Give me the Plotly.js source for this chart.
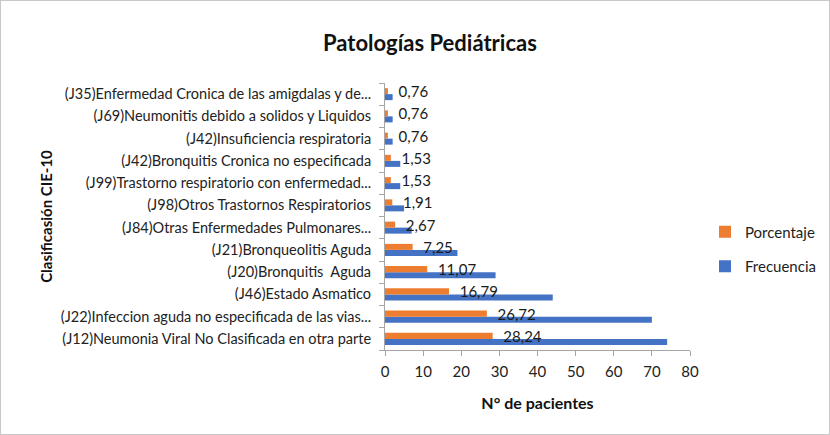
<!DOCTYPE html>
<html><head><meta charset="utf-8">
<script src="https://cdn.plot.ly/plotly-3.0.1.min.js"></script>
<style>html,body{margin:0;padding:0;background:#fff}#c{width:830px;height:435px;position:relative}#b{position:absolute;left:0;top:0;width:828px;height:433px;border:1px solid #c8c8c8;pointer-events:none}</style>
</head><body><div id="c"></div><div id="b"></div>
<script>
// bottom to top
const categories = [
  "(J12)Neumonia Viral No Clasificada en otra parte",
  "(J22)Infeccion aguda no especificada de las vias...",
  "(J46)Estado Asmatico",
  "(J20)Bronquitis  Aguda",
  "(J21)Bronqueolitis Aguda",
  "(J84)Otras Enfermedades Pulmonares...",
  "(J98)Otros Trastornos Respiratorios",
  "(J99)Trastorno respiratorio con enfermedad...",
  "(J42)Bronquitis Cronica no especificada",
  "(J42)Insuficiencia respiratoria",
  "(J69)Neumonitis debido a solidos y Liquidos",
  "(J35)Enfermedad Cronica de las amigdalas y de..."
];
const frecuencia = [74, 70, 44, 29, 19, 7, 5, 4, 4, 2, 2, 2];
const porcentaje = [28.24, 26.72, 16.79, 11.07, 7.25, 2.67, 1.91, 1.53, 1.53, 0.76, 0.76, 0.76];
const xTicks = [0, 10, 20, 30, 40, 50, 60, 70, 80];

const traces = [
  {type:'bar', orientation:'h', name:'Frecuencia', legendgroup:'f', legendrank:2, y:categories, x:frecuencia,
   marker:{color:'#4472C4'}, hoverinfo:'x'},
  {type:'bar', orientation:'h', name:'Porcentaje', legendgroup:'p', legendrank:1, y:categories, x:porcentaje,
   marker:{color:'#ED7D31'}, texttemplate:'\u00a0\u00a0%{x:.2f}', textposition:'outside',
   constraintext:'none', cliponaxis:false,
   textfont:{family:'Lato, sans-serif', size:15, color:'#1a1a1a'}}
];
const layout = {
  width:830, height:435,
  margin:{l:0, r:0, t:83, b:85},
  paper_bgcolor:'#fff', plot_bgcolor:'rgba(0,0,0,0)',
  separators:',.',
  barmode:'group', bargap:0.46, bargroupgap:0,
  font:{family:'Lato, sans-serif', color:'#222'},
  title:{text:'<b>Patologías Pediátricas</b>', x:0.518, xanchor:'center', y:0.9, yanchor:'middle',
    font:{family:'Lato, sans-serif', size:22, color:'#111'}},
  xaxis:{domain:[385/830, 690/830], range:[0,80], tickvals:xTicks, showgrid:false, zeroline:false,
    showline:true, linecolor:'#a6a6a6', linewidth:1, ticks:'outside', ticklen:5, tickcolor:'#a6a6a6',
    ticklabelstandoff:3, tickfont:{size:15, color:'#222'},
    title:{text:'<b>N° de pacientes</b>', standoff:18, font:{size:16, color:'#111'}}},
  yaxis:{type:'category', showgrid:false, showline:true, linecolor:'#a6a6a6', linewidth:1,
    ticks:'outside', tickson:'boundaries', ticklen:5, tickcolor:'#a6a6a6', ticklabelstandoff:10,
    tickfont:{size:14.5, color:'#222'},
    title:{text:'<b>Clasificasión CIE-10</b>', standoff:4, font:{size:15, color:'#111'}}},
  legend:{x:705/830, xanchor:'left', y:0.378, yanchor:'middle', traceorder:'grouped',
    font:{size:15, color:'#222'}, itemwidth:30, tracegroupgap:12, bgcolor:'rgba(0,0,0,0)'},
  showlegend:true
};
Plotly.newPlot('c', traces, layout, {displayModeBar:false, staticPlot:true});
</script></body></html>
